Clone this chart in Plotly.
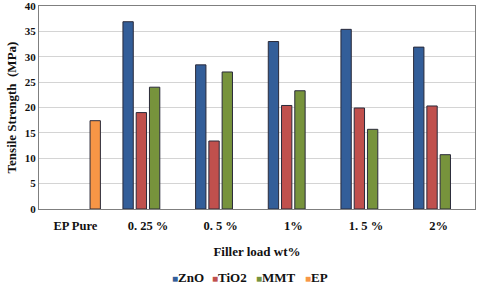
import plotly.graph_objects as go

categories = ["EP Pure", "0. 25 %", "0. 5 %", "1%", "1. 5 %", "2%"]
zno = [None, 36.9, 28.4, 33.0, 35.4, 31.9]
tio2 = [None, 19.0, 13.4, 20.4, 19.9, 20.3]
mmt = [None, 24.0, 27.0, 23.3, 15.7, 10.7]
ep = [17.4, None, None, None, None, None]
y_ticks = [0, 5, 10, 15, 20, 25, 30, 35, 40]

series = [("ZnO", zno, "#335E99"), ("TiO2", tio2, "#C0504D"),
          ("MMT", mmt, "#77933C"), ("EP", ep, "#F79646")]
legend_px = [170, 210, 254, 303]

font = "Liberation Serif, Times New Roman, serif"
fig = go.Figure()
for name, vals, col in series:
    fig.add_trace(go.Bar(x=categories, y=vals, name=name, showlegend=False,
                         marker=dict(color=col, line=dict(color="#2a2a3a", width=1))))

L, R, T, B, W, H = 39, 5, 6, 75, 480, 284
pw, ph = W - L - R, H - T - B
for (name, vals, col), px in zip(series, legend_px):
    fig.add_annotation(xref="paper", yref="paper", x=(px - L) / pw, y=(H - B - 277) / ph,
                       xanchor="left", yanchor="middle", showarrow=False,
                       text=f"<span style='color:{col};font-size:10px'>■</span><b>{name}</b>",
                       font=dict(family=font, size=13, color="#111"))

fig.update_layout(
    width=W, height=H,
    margin=dict(l=L, r=R, t=T, b=B),
    barmode="group", bargap=0.27, bargroupgap=0.22,
    plot_bgcolor="white", paper_bgcolor="white",
    font=dict(family=font, size=11, color="#111"),
    showlegend=False,
)
fig.update_yaxes(range=[0, 40], tickvals=y_ticks, ticktext=[f"<b>{v}</b>" for v in y_ticks],
                 showgrid=True, gridcolor="#d4d4d4", gridwidth=1, automargin=False,
                 ticklabeloverflow="allow",
                 showline=True, linecolor="#7f7f7f", mirror=True, ticks="",
                 tickfont=dict(family=font, size=11, color="#111"),
                 title=dict(text="<b>Tensile Strength  (MPa)</b>", font=dict(family=font, size=13), standoff=5),
                 zeroline=False)
fig.update_xaxes(showline=True, linecolor="#7f7f7f", mirror=True, ticks="", automargin=False,
                 tickfont=dict(family=font, size=12.5, color="#111"),
                 tickprefix="<b>", ticksuffix="</b>", ticklabelstandoff=5,
                 title=dict(text="<b>Filler load wt%</b>", font=dict(family=font, size=13), standoff=14))
fig.write_html("out.html", config={"displayModeBar": False},
               post_script="document.body.style.margin='0';document.body.style.overflow='hidden';")
